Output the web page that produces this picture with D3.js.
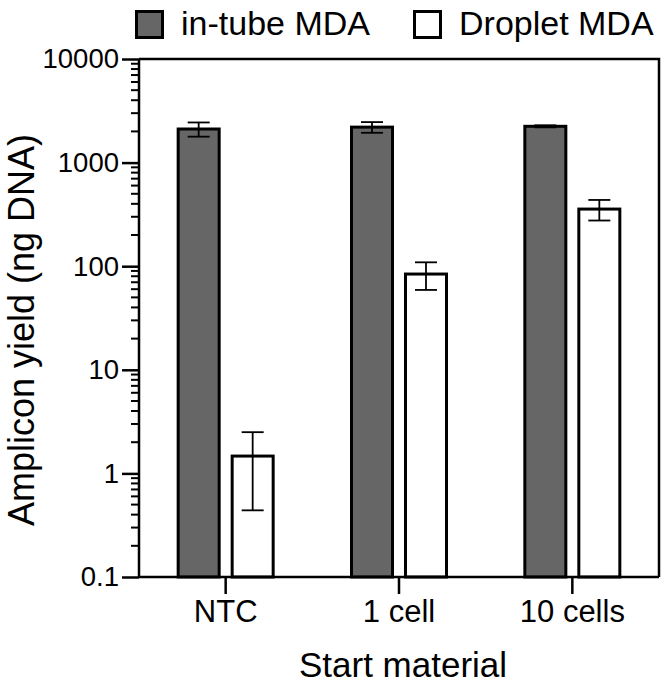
<!DOCTYPE html>
<html>
<head>
<meta charset="utf-8">
<script src="https://cdn.jsdelivr.net/npm/d3@7"></script>
<style>
  html, body { margin: 0; padding: 0; background: #fff; }
  svg { display: block; font-family: "Liberation Sans", Arial, Helvetica, sans-serif; }
</style>
</head>
<body>
<svg id="chart" width="667" height="683"></svg>
<script>
// ---- data ----
const categories = ["NTC", "1 cell", "10 cells"];
const seriesNames = ["in-tube MDA", "Droplet MDA"];
const inTubeMean = [2110, 2200, 2240];
const inTubeErr = [330, 260, 50];
const dropletMean = [1.47, 84, 356];
const dropletErr = [1.03, 25, 80];
const yTickValues = [0.1, 1, 10, 100, 1000, 10000];
const yTickLabels = ["0.1", "1", "10", "100", "1000", "10000"];
const seriesFill = ["#666666", "#ffffff"];

// ---- layout ----
const svg = d3.select("#chart");
const plotLeft = 139, plotRight = 659, plotTop = 59, plotBottom = 577;

const x0 = d3.scaleBand().domain(categories).range([plotLeft, plotRight]).padding(0);
const x1 = d3.scaleBand().domain(seriesNames).range([0, 98]).paddingInner(0.185).paddingOuter(0);
const y = d3.scaleLog().domain([0.1, 10000]).range([plotBottom, plotTop]);

const rows = categories.map((c, i) => ({
  cat: c,
  vals: [
    { s: seriesNames[0], v: inTubeMean[i], e: inTubeErr[i], fill: seriesFill[0] },
    { s: seriesNames[1], v: dropletMean[i], e: dropletErr[i], fill: seriesFill[1] }
  ]
}));

const barSW = 3;
const groups = svg.append("g").selectAll("g").data(rows).join("g")
  .attr("transform", d => `translate(${x0(d.cat) + x0.bandwidth() / 2 - 49},0)`);

groups.selectAll("rect").data(d => d.vals).join("rect")
  .attr("x", d => x1(d.s) + barSW / 2)
  .attr("width", x1.bandwidth() - barSW)
  .attr("y", d => y(d.v))
  .attr("height", d => y(0.1) - y(d.v))
  .attr("fill", d => d.fill)
  .attr("stroke", "#000")
  .attr("stroke-width", barSW);

// error bars
const capW = 22;
const eb = groups.selectAll("g.err").data(d => d.vals).join("g").attr("class", "err")
  .attr("stroke", "#000").attr("stroke-width", 1.8);
eb.append("line")
  .attr("x1", d => x1(d.s) + x1.bandwidth() / 2)
  .attr("x2", d => x1(d.s) + x1.bandwidth() / 2)
  .attr("y1", d => y(d.v + d.e))
  .attr("y2", d => y(d.v - d.e));
eb.append("line")
  .attr("x1", d => x1(d.s) + x1.bandwidth() / 2 - capW / 2)
  .attr("x2", d => x1(d.s) + x1.bandwidth() / 2 + capW / 2)
  .attr("y1", d => y(d.v + d.e)).attr("y2", d => y(d.v + d.e));
eb.append("line")
  .attr("x1", d => x1(d.s) + x1.bandwidth() / 2 - capW / 2)
  .attr("x2", d => x1(d.s) + x1.bandwidth() / 2 + capW / 2)
  .attr("y1", d => y(d.v - d.e)).attr("y2", d => y(d.v - d.e));

// frame (top and right)
svg.append("path")
  .attr("d", `M${plotLeft},${plotTop}H${plotRight}V${plotBottom}`)
  .attr("fill", "none").attr("stroke", "#000").attr("stroke-width", 2.5);

// y axis
const minorTicks = [];
for (let dec = 0.1; dec < 10000; dec *= 10) {
  for (let k = 2; k <= 9; k++) minorTicks.push(+(dec * k).toPrecision(3));
}
const yAxis = svg.append("g").attr("transform", `translate(${plotLeft},0)`);
yAxis.call(d3.axisLeft(y).tickValues(yTickValues)
  .tickFormat((d, i) => yTickLabels[i]).tickSize(17).tickPadding(3));
yAxis.select(".domain").attr("stroke-width", 2.5).attr("d", `M0,${plotBottom}V${plotTop}`);
yAxis.selectAll(".tick line").attr("stroke-width", 2.5);
yAxis.selectAll(".tick text").attr("font-size", 27.5).attr("fill", "#000")
  .attr("font-family", "Liberation Sans, Arial, sans-serif");
yAxis.selectAll("line.minor").data(minorTicks).join("line").attr("class", "minor")
  .attr("x1", -8).attr("x2", 0)
  .attr("y1", d => y(d)).attr("y2", d => y(d))
  .attr("stroke", "#000").attr("stroke-width", 2);

// x axis
const xAxis = svg.append("g").attr("transform", `translate(0,${plotBottom})`);
xAxis.call(d3.axisBottom(x0).tickSize(17).tickPadding(5));
xAxis.select(".domain").attr("stroke-width", 2.5).attr("d", `M${plotLeft},0H${plotRight}`);
xAxis.selectAll(".tick line").attr("stroke-width", 2.5);
xAxis.selectAll(".tick text").attr("font-size", 31).attr("fill", "#000")
  .attr("font-family", "Liberation Sans, Arial, sans-serif")
  .attr("y", 0).attr("dy", 0).attr("transform", "translate(0,45)");

// axis titles
svg.append("text").attr("x", 403).attr("y", 677).attr("text-anchor", "middle")
  .attr("font-size", 35).attr("fill", "#000").text("Start material");
svg.append("text").attr("transform", "translate(34,330) rotate(-90)")
  .attr("text-anchor", "middle").attr("font-size", 36).attr("fill", "#000")
  .text("Amplicon yield (ng DNA)");

// legend
const legendX = [135, 413];
const lg = svg.append("g").selectAll("g").data(seriesNames).join("g")
  .attr("transform", (d, i) => `translate(${legendX[i]},0)`);
lg.append("rect").attr("x", 1.5).attr("y", 11.5).attr("width", 26).attr("height", 26)
  .attr("fill", (d, i) => seriesFill[i]).attr("stroke", "#000").attr("stroke-width", 3);
lg.append("text").attr("x", 46).attr("y", 35).attr("font-size", 34).attr("fill", "#000")
  .text(d => d);
</script>
</body>
</html>
